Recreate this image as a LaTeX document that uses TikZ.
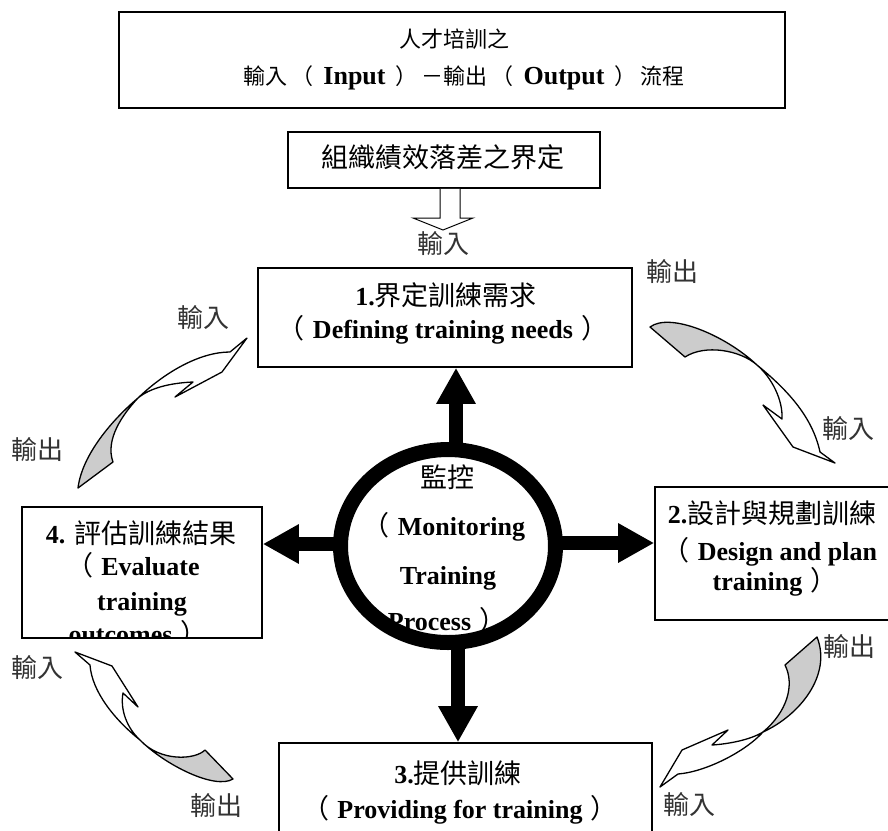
\documentclass[tikz,border=0pt]{standalone}
\usepackage{fontspec}
\setmainfont{Liberation Serif}
\newfontfamily\cjk{Noto Sans CJK TC}
\usetikzlibrary{shapes.geometric,arrows.meta}
\newcommand\zh[1]{{\cjk\mdseries\fontsize{27}{30}\selectfont #1}}
\newcommand\zt[1]{{\cjk\mdseries\fontsize{22}{26}\selectfont #1}}
\newcommand\lp{\zh{（}\hspace{8pt}}
\newcommand\rp{\hspace{8pt}\zh{）}}
\newcommand\tlp{\hspace{4pt}\zt{（}\hspace{10pt}}
\newcommand\trp{\hspace{10pt}\zt{）}\hspace{4pt}}
\tikzset{
  box/.style={draw, line width=1.6pt, rectangle, inner sep=0pt},
  lbl/.style={font=\cjk\fontsize{26}{26}\selectfont, text=black!80, inner sep=0pt},
  txt/.style={anchor=base, inner sep=0pt, font=\fontsize{26}{30}\selectfont\bfseries},
  bigarrow/.style={line width=14pt, -{Triangle[length=36pt,width=37pt]}},
  curlw/.style={draw, line width=1.3pt, line join=round, fill=white},
  curlg/.style={draw, line width=1.3pt, line join=round, fill=black!20},
}
\begin{document}
\begin{tikzpicture}[x=1pt,y=-1pt]
\useasboundingbox (0,0) rectangle (888,830);
\clip (0,0) rectangle (888,830);
\fill[white] (0,0) rectangle (888,830);

% boxes
\node[box, minimum width=666pt, minimum height=96pt] (title) at (452,60) {};
\node[box, minimum width=312pt, minimum height=56pt] (gap) at (444,160) {};
\node[box, minimum width=374pt, minimum height=99pt] (b1) at (445,317.5) {};
\node[box, minimum width=245pt, minimum height=133pt] (b2) at (777.5,553.5) {};
\node[box, minimum width=373pt, minimum height=102pt] (b3) at (465.5,794) {};
\node[box, minimum width=240pt, minimum height=131pt] (b4) at (142,572.5) {};
\node[ellipse, draw, line width=15pt, minimum width=215pt, minimum height=193pt, inner sep=0pt] (circ) at (448,546) {};

% thick arrows from the monitoring circle
\draw[bigarrow, shorten <=-8pt] ([xshift=8pt]circ.north) -- ([xshift=8pt]circ.north |- b1.south);
\draw[bigarrow, shorten <=-8pt] ([xshift=10pt]circ.south) -- ([xshift=10pt]circ.south |- b3.north);
\draw[bigarrow, shorten <=-8pt] ([yshift=3pt]circ.east) -- ([yshift=3pt]circ.east -| b2.west);
\draw[bigarrow, shorten <=-8pt] ([yshift=2pt]circ.west) -- ([yshift=2pt]circ.west -| b4.east);

% hollow input arrow
\draw[line width=1pt, fill=white, line join=miter] (440,188.8) -- (440,218) -- (413,218) -- (443,230) -- (473,218) -- (460,218) -- (460,188.8);

% title
\node[txt] (t1) at (454,47.5) {\zt{人才培訓之}};
\node[txt] (t2) at (464,84) {\zt{輸入}\tlp Input\trp\zt{－輸出}\tlp Output\trp\zt{流程}};
\node[txt] (gt) at (443,167) {\zh{組織績效落差之界定}};

% box 1
\node[txt] (b1a) at (446,305) {1.\zh{界定訓練需求}};
\node[txt] (b1b) at (443,338) {\lp Defining training needs\rp};
% box 2
\node[txt] (b2a) at (772,523) {2.\zh{設計與規劃訓練}};
\node[txt] (b2b) at (770,560) {\lp Design and plan};
\node[txt] (b2c) at (775,590) {training\rp};
% box 3
\node[txt] (b3a) at (458,783) {3.\zh{提供訓練}};
\node[txt] (b3b) at (460,818) {\lp Providing for training\rp};
% box 4 (text clipped by box)
\begin{scope}
\clip (22.8,507.8) rectangle (261.2,637.2);
\node[txt] (b4a) at (141,543) {4. \zh{評估訓練結果}};
\node[txt] (b4b) at (133,575) {\lp Evaluate};
\node[txt] (b4c) at (142,610) {training};
\node[txt] (b4d) at (138,643) {outcomes\rp};
\end{scope}
% circle text
\node[txt] (c1) at (447,487) {\zh{監控}};
\node[txt] (c2) at (444,535) {\lp Monitoring};
\node[txt] (c3) at (448,584) {Training};
\node[txt] (c4) at (447,630) {Process\rp};

% curved arrows
% top right
\draw[curlg] (650,327) .. controls (670,312) and (725,335) .. (757,365) .. controls (740,350) and (705,344) .. (685,357) -- cycle;
\draw[curlw] (757,365) .. controls (785,388) and (812,415) .. (820,452) -- (835,463) -- (793,447) -- (763,405) -- (782,419) .. controls (783,400) and (772,378) .. (757,365) -- cycle;
% top left
\draw[curlg] (78,488) .. controls (82,455) and (112,420) .. (138,398) .. controls (122,415) and (105,440) .. (113,462) -- cycle;
\draw[curlw] (138,398) .. controls (165,372) and (200,352) .. (230,352) -- (247,338) -- (222,372) -- (175,397) -- (193,382) .. controls (170,383) and (150,388) .. (138,398) -- cycle;
% bottom left
\draw[curlw] (140,740) .. controls (115,720) and (92,692) .. (90,665) -- (75,652) -- (112,666) -- (138,707) -- (123,693) .. controls (120,710) and (127,728) .. (140,740) -- cycle;
\draw[curlg] (140,740) .. controls (165,765) and (215,790) .. (233,779) -- (205,750) .. controls (195,760) and (160,762) .. (140,740) -- cycle;
% bottom right
\draw[curlg] (763,732) .. controls (800,715) and (832,675) .. (817,637) -- (785,665) .. controls (795,685) and (787,712) .. (763,732) -- cycle;
\draw[curlw] (763,732) .. controls (745,752) and (705,772) .. (678,774) -- (660,787) -- (682,750) -- (728,730) -- (712,745) .. controls (728,744) and (750,740) .. (763,732) -- cycle;

% labels
\node[lbl] (l1) at (443,244) {輸入};
\node[lbl] (l2) at (672,272) {輸出};
\node[lbl] (l3) at (203,318) {輸入};
\node[lbl] (l4) at (38,450) {輸出};
\node[lbl] (l5) at (848,429) {輸入};
\node[lbl] (l6) at (849,647) {輸出};
\node[lbl] (l7) at (38,668) {輸入};
\node[lbl] (l8) at (216,806) {輸出};
\node[lbl] (l9) at (689,805) {輸入};
\end{tikzpicture}
\end{document}
